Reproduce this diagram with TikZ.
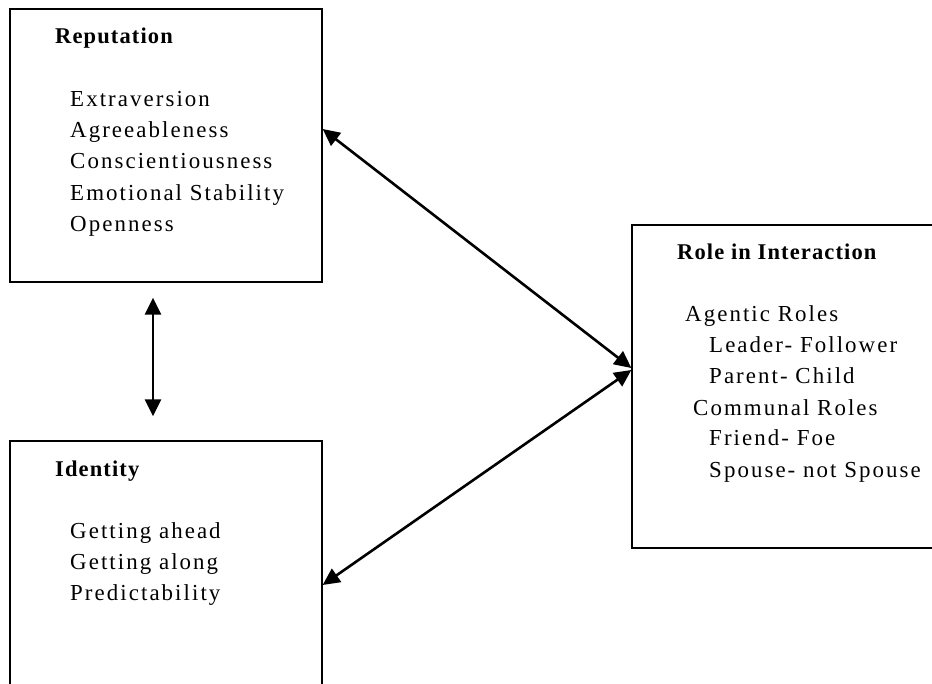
\documentclass[tikz,border=0pt]{standalone}
\usepackage{fontspec}
\setmainfont{Liberation Serif}
\newfontfamily\bodyfont{Liberation Serif}[LetterSpace=9]
\newfontfamily\titlefont{Liberation Serif}[LetterSpace=5]
\usetikzlibrary{arrows.meta}
\tikzset{
  box/.style={draw, line width=1.3pt, rectangle, inner sep=0pt},
  ttl/.style={anchor=base west, inner sep=0pt, font=\titlefont\bfseries\fontsize{22.5}{27}\selectfont},
  itm/.style={anchor=base west, inner sep=0pt, font=\bodyfont\fontsize{22.9}{27}\selectfont},
  link/.style={line width=2.6pt, {Triangle[length=17pt,width=16pt]}-{Triangle[length=17pt,width=16pt]}}
}
\begin{document}
\begin{tikzpicture}[x=1pt,y=-1pt]
\useasboundingbox (0,0) rectangle (932,684);
\clip (0,0) rectangle (932,684);
\fill[white] (0,0) rectangle (932,684);
% boxes
\node[box, minimum width=312pt, minimum height=273pt] (rep) at (166,145.5) {};
\node[box, minimum width=312pt, minimum height=300pt] (ide) at (166,591) {};
\node[box, minimum width=360pt, minimum height=323pt] (role) at (812,386.5) {};
% Reputation texts
\node[ttl] (repT) at (55,44) {Reputation};
\node[itm] (r1) at (70,107) {Extraversion};
\node[itm] (r2) at (70,138) {Agreeableness};
\node[itm] (r3) at (70,169) {Conscientiousness};
\node[itm] (r4) at (70,200.5) {Emotional Stability};
\node[itm] (r5) at (70,232) {Openness};
% Identity texts
\node[ttl] (ideT) at (55,476) {Identity};
\node[itm] (i1) at (70,538) {Getting ahead};
\node[itm] (i2) at (70,569) {Getting along};
\node[itm] (i3) at (70,600) {Predictability};
% Role texts
\node[ttl] (roleT) at (677,260) {Role in Interaction};
\node[itm] (o1) at (685,322) {Agentic Roles};
\node[itm] (o2) at (709,353) {Leader- Follower};
\node[itm] (o3) at (709,384) {Parent- Child};
\node[itm] (o4) at (693,416) {Communal Roles};
\node[itm] (o5) at (709,446) {Friend- Foe};
\node[itm] (o6) at (709,477) {Spouse- not Spouse};
% connectors
\draw[link] ([xshift=-13pt,yshift=-15pt]rep.south) -- ([xshift=-13pt,yshift=24pt]ide.north);
\draw[link] ([yshift=16.5pt]rep.east) -- ([yshift=18.5pt]role.west);
\draw[link] ([yshift=6pt]ide.east) -- ([yshift=16.5pt]role.west);
\end{tikzpicture}
\end{document}
